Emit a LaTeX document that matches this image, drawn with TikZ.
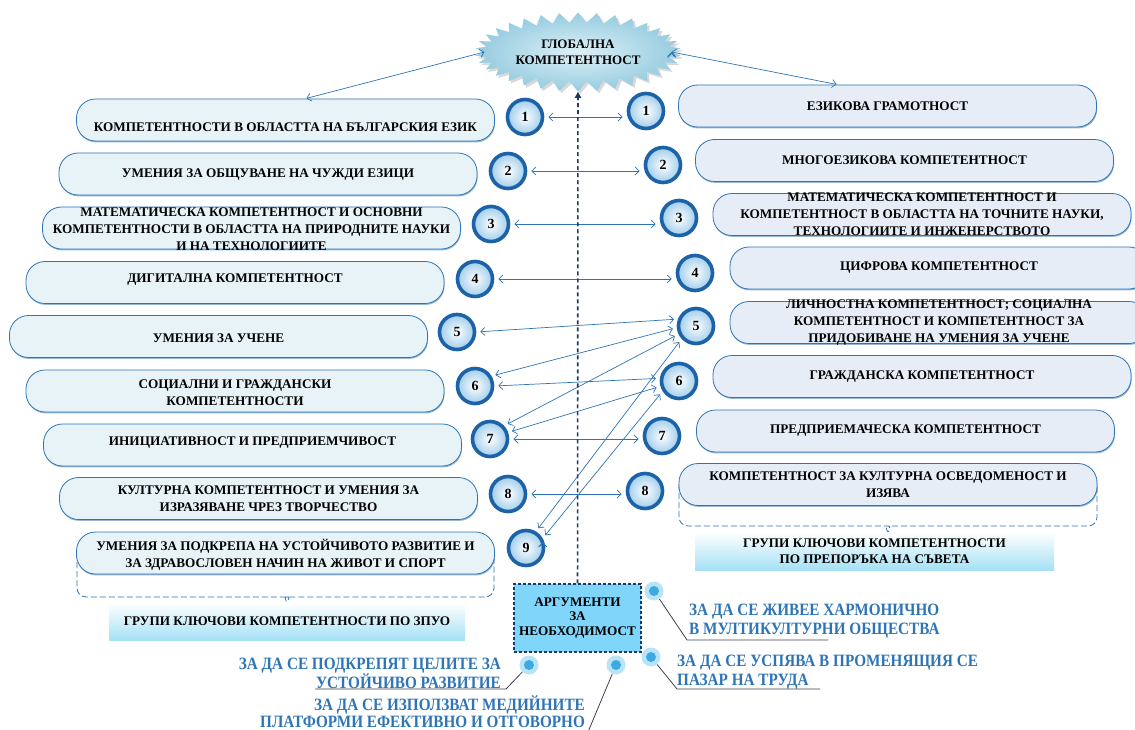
\documentclass[tikz,border=0pt]{standalone}
\usepackage{fontspec}
\setmainfont{Liberation Serif}
\newfontfamily\narrowfont{Liberation Serif}[FakeStretch=0.88]
\usetikzlibrary{positioning,calc,arrows.meta,shapes.symbols,shadows}

\definecolor{lineblue}{RGB}{46,117,182}
\definecolor{lfill}{RGB}{231,243,247}
\definecolor{rfill}{RGB}{231,237,247}
\definecolor{navy}{RGB}{32,56,100}
\definecolor{ring}{RGB}{28,98,168}
\definecolor{numfill}{RGB}{160,205,235}
\definecolor{argfill}{RGB}{128,214,250}
\definecolor{starfill}{RGB}{150,204,224}
\definecolor{starlight}{RGB}{222,240,246}
\definecolor{glow}{RGB}{185,228,248}
\definecolor{dotblue}{RGB}{60,170,225}
\definecolor{leadgray}{RGB}{60,66,80}
\definecolor{grpfill}{RGB}{165,225,245}

\begin{document}
\begin{tikzpicture}[x=1pt, y=-1pt]
  \tikzset{
    lbox/.style={draw=lineblue, fill=lfill, line width=0.8pt, rounded corners=19pt,
      minimum width=418pt, minimum height=42pt,
      drop shadow={shadow xshift=0.6pt, shadow yshift=-1.4pt, fill=ring, opacity=0.45}},
    rbox/.style={lbox, fill=rfill},
    btxt/.style={font=\bfseries\fontsize{13.2}{17}\selectfont, align=center, inner sep=0pt},
    num/.style={circle, draw=ring, line width=3.6pt, inner color=white, outer color=numfill,
      minimum size=35pt, inner sep=0pt, font=\bfseries\fontsize{14}{16}\selectfont,
      drop shadow={shadow xshift=1pt, shadow yshift=-1.5pt, opacity=0.3}},
    link/.style={draw=lineblue, line width=0.7pt, shorten <=4pt, shorten >=4pt,
      {Straight Barb[length=4pt,width=8pt]}-{Straight Barb[length=4pt,width=8pt]}},
    dashbrace/.style={draw=lineblue, line width=0.8pt, dash pattern=on 6pt off 3pt, rounded corners=9pt},
    grpbox/.style={top color=white, bottom color=grpfill, minimum width=356pt, minimum height=37pt,
      font=\bfseries\fontsize{13.2}{16}\selectfont, align=center},
    bullet/.style={circle, fill=glow, minimum size=19pt, inner sep=0pt,
      path picture={\fill[dotblue] (path picture bounding box.center) circle (5pt);}},
    reason/.style={font=\narrowfont\bfseries\fontsize{17.3}{19}\selectfont, text=lineblue, inner sep=0pt},
    leadline/.style={draw=leadgray, line width=0.8pt}
  }
  \path[use as bounding box, fill=white] (0,0) rectangle (1135,730);

  % dashed braces under the last boxes
  \draw[dashbrace] (77,553) -- (77,597) -- (279,597) .. controls (285,597) .. (287,607)
    .. controls (289,597) .. (295,597) -- (494,597) -- (494,553);
  \draw[dashbrace] (679,484) -- (679,526) -- (880,526) .. controls (886,526) .. (888,537)
    .. controls (890,526) .. (896,526) -- (1097,526) -- (1097,484);

  % left column (ZPUO)
  \node[lbox] (L1) at (285.5,120) {};
  \node[lbox] (L2) at (268,174) {};
  \node[lbox] (L3) at (251.5,228) {};
  \node[lbox] (L4) at (235,282.5) {};
  \node[lbox] (L5) at (218.5,336.5) {};
  \node[lbox] (L6) at (235,391) {};
  \node[lbox] (L7) at (252.5,445) {};
  \node[lbox] (L8) at (268.5,498.5) {};
  \node[lbox] (L9) at (285.5,553) {};
  \node[btxt] (tL1) at (285.5,127) {КОМПЕТЕНТНОСТИ В ОБЛАСТТА НА БЪЛГАРСКИЯ ЕЗИК};
  \node[btxt] (tL2) at (268,175) {УМЕНИЯ ЗА ОБЩУВАНЕ НА ЧУЖДИ ЕЗИЦИ};
  \node[btxt] (tL3) at (251.5,229) {МАТЕМАТИЧЕСКА КОМПЕТЕНТНОСТ И ОСНОВНИ\\КОМПЕТЕНТНОСТИ В ОБЛАСТТА НА ПРИРОДНИТЕ НАУКИ\\И НА ТЕХНОЛОГИИТЕ};
  \node[btxt] (tL4) at (235,280) {ДИГИТАЛНА КОМПЕТЕНТНОСТ};
  \node[btxt] (tL5) at (218.5,338) {УМЕНИЯ ЗА УЧЕНЕ};
  \node[btxt] (tL6) at (235,393) {СОЦИАЛНИ И ГРАЖДАНСКИ\\КОМПЕТЕНТНОСТИ};
  \node[btxt] (tL7) at (252.5,443) {ИНИЦИАТИВНОСТ И ПРЕДПРИЕМЧИВОСТ};
  \node[btxt] (tL8) at (268.5,499) {КУЛТУРНА КОМПЕТЕНТНОСТ И УМЕНИЯ ЗА\\ИЗРАЗЯВАНЕ ЧРЕЗ ТВОРЧЕСТВО};
  \node[btxt] (tL9) at (285.5,554.5) {УМЕНИЯ ЗА ПОДКРЕПА НА УСТОЙЧИВОТО РАЗВИТИЕ И\\ЗА ЗДРАВОСЛОВЕН НАЧИН НА ЖИВОТ И СПОРТ};

  % right column (Council recommendation)
  \node[rbox] (R1) at (887.5,106) {};
  \node[rbox] (R2) at (904.5,160.5) {};
  \node[rbox] (R3) at (922,214.5) {};
  \node[rbox] (R4) at (939,268) {};
  \node[rbox] (R5) at (939,322.5) {};
  \node[rbox] (R6) at (922,376.5) {};
  \node[rbox] (R7) at (905.5,431) {};
  \node[rbox] (R8) at (888,484.5) {};
  \node[btxt] (tR1) at (887.5,106) {ЕЗИКОВА ГРАМОТНОСТ};
  \node[btxt] (tR2) at (904.5,160) {МНОГОЕЗИКОВА КОМПЕТЕНТНОСТ};
  \node[btxt] (tR3) at (922,214) {МАТЕМАТИЧЕСКА КОМПЕТЕНТНОСТ И\\КОМПЕТЕНТНОСТ В ОБЛАСТТА НА ТОЧНИТЕ НАУКИ,\\ТЕХНОЛОГИИТЕ И ИНЖЕНЕРСТВОТО};
  \node[btxt] (tR4) at (939,268) {ЦИФРОВА КОМПЕТЕНТНОСТ};
  \node[btxt] (tR5) at (939,323) {ЛИЧНОСТНА КОМПЕТЕНТНОСТ; СОЦИАЛНА\\КОМПЕТЕНТНОСТ И КОМПЕТЕНТНОСТ ЗА\\ПРИДОБИВАНЕ НА УМЕНИЯ ЗА УЧЕНЕ};
  \node[btxt] (tR6) at (922,377) {ГРАЖДАНСКА КОМПЕТЕНТНОСТ};
  \node[btxt] (tR7) at (905.5,431) {ПРЕДПРИЕМАЧЕСКА КОМПЕТЕНТНОСТ};
  \node[btxt] (tR8) at (888,485) {КОМПЕТЕНТНОСТ ЗА КУЛТУРНА ОСВЕДОМЕНОСТ И\\ИЗЯВА};

  \node[grpbox] (g1) at (287,621.5) {ГРУПИ КЛЮЧОВИ КОМПЕТЕНТНОСТИ ПО ЗПУО};
  \node[grpbox, minimum width=359pt, minimum height=38pt] (g2) at (874.5,551)
    {ГРУПИ КЛЮЧОВИ КОМПЕТЕНТНОСТИ\\ПО ПРЕПОРЪКА НА СЪВЕТА};

  % number badges
  \node[num] (l1) at (525,117) {1};
  \node[num] (l2) at (508,171) {2};
  \node[num] (l3) at (491,224) {3};
  \node[num] (l4) at (475,279) {4};
  \node[num] (l5) at (457,332) {5};
  \node[num] (l6) at (475,386) {6};
  \node[num] (l7) at (490,439) {7};
  \node[num] (l8) at (508,494) {8};
  \node[num] (l9) at (526,548) {9};
  \node[num] (r1) at (646,111) {1};
  \node[num] (r2) at (663,165) {2};
  \node[num] (r3) at (679,218) {3};
  \node[num] (r4) at (695,273) {4};
  \node[num] (r5) at (696,326) {5};
  \node[num] (r6) at (679,381) {6};
  \node[num] (r7) at (662,436) {7};
  \node[num] (r8) at (645,491) {8};

  % links between the two lists
  \path[link]
    (l1.east) edge (l1.east -| r1.west)
    (l2.east) edge (l2.east -| r2.west)
    (l3.east) edge (l3.east -| r3.west)
    (l4.east) edge (l4.east -| r4.west)
    (l5.east) edge (r5.159)
    (l6.31) edge (r5.185)
    (l6.east) edge (r6.172)
    (l7.43) edge (r5.205)
    (l7.20) edge (r6.196)
    (l7.east) edge (l7.east -| r7.west)
    (l8.east) edge (l8.east -| r8.west)
    (l9.59) edge (r5.222)
    (l9.30) edge (r6.212);

  \node[starburst, starburst points=34, starburst point height=10pt, random starburst=0,
    minimum width=180pt, minimum height=79pt, inner color=starlight, outer color=starfill,
    drop shadow={opacity=0.3}, align=center, font=\bfseries\fontsize{13}{16}\selectfont]
    (glob) at (578,52) {ГЛОБАЛНА\\КОМПЕТЕНТНОСТ};
  \path[link, shorten <=0pt, shorten >=1pt]
    (glob.west) edge ([xshift=20pt]L1.north)
    (glob.east) edge ([xshift=-50pt]R1.north);

  \node[draw=navy, line width=1.5pt, dash pattern=on 3pt off 2pt, fill=argfill,
    minimum width=127pt, minimum height=68pt, align=center,
    font=\bfseries\fontsize{13.2}{14.5}\selectfont] (arg) at (577.5,618) {АРГУМЕНТИ\\ЗА\\НЕОБХОДИМОСТ};
  \draw[navy, line width=1.6pt, dash pattern=on 4pt off 3pt, -{Triangle[length=6pt,width=6pt]}]
    (arg) -- (glob);

  % reasons
  \node[bullet] (d1) at (654,591) {};
  \node[bullet] (d2) at (529,665) {};
  \node[bullet] (d3) at (616,665) {};
  \node[bullet] (d4) at (651,657) {};
  \node[reason, anchor=west, align=left] (w1) at (689,621) {ЗА ДА СЕ ЖИВЕЕ ХАРМОНИЧНО\\В МУЛТИКУЛТУРНИ ОБЩЕСТВА};
  \node[reason, anchor=west, align=left] (w2) at (677,672.5) {ЗА ДА СЕ УСПЯВА В ПРОМЕНЯЩИЯ СЕ\\ПАЗАР НА ТРУДА};
  \node[reason, anchor=east, align=right] (w3) at (501,673) {ЗА ДА СЕ ПОДКРЕПЯТ ЦЕЛИТЕ ЗА\\УСТОЙЧИВО РАЗВИТИЕ};
  \node[reason, anchor=east, align=right, font=\narrowfont\bfseries\fontsize{17.3}{17.5}\selectfont]
    (w4) at (585,711.5) {ЗА ДА СЕ ИЗПОЛЗВАТ МЕДИЙНИТЕ\\ПЛАТФОРМИ ЕФЕКТИВНО И ОТГОВОРНО};
  \coordinate (u1) at (687,640);
  \coordinate (u2) at (677,689);
  \coordinate (u3) at (506,689);
  \coordinate (u4) at (588,732);
  \draw[leadline] (d1) -- (u1) -- ++(141,0);
  \draw[leadline] (d4) -- (u2) -- ++(143,0);
  \draw[leadline] (d2) -- (u3) -- ++(-191,0);
  \draw[leadline] (d3) -- (u4);
\end{tikzpicture}
\end{document}
